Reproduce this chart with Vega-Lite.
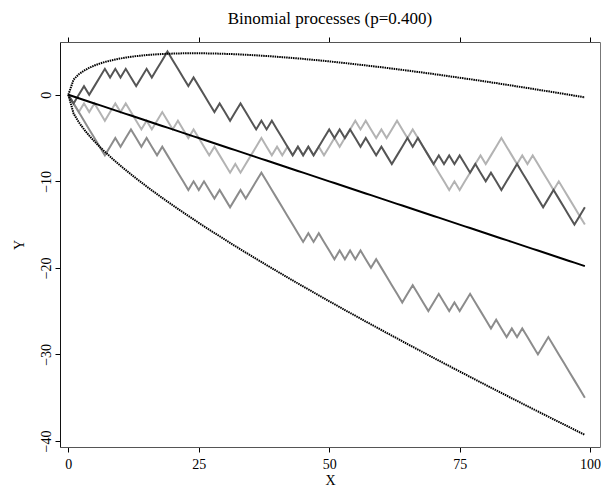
{
  "$schema": "https://vega.github.io/schema/vega-lite/v6.json",
  "width": 540,
  "height": 405,
  "autosize": {"type": "none"},
  "padding": {"left": 60, "top": 42, "right": 1, "bottom": 44},
  "background": "white",
  "config": {
    "font": "Liberation Serif",
    "view": {"stroke": null},
    "axis": {"labelFont": "Liberation Serif", "titleFont": "Liberation Serif", "labelFontSize": 14, "titleFontSize": 14, "titleFontWeight": "normal", "labelColor": "black", "titleColor": "black", "tickColor": "black", "tickSize": 5, "grid": false}
  },
  "title": {"text": "Binomial processes (p=0.400)", "font": "Liberation Serif", "fontSize": 17, "fontWeight": "normal", "color": "black", "anchor": "middle", "offset": 9},
  "data": {"values": [
    {"x":0,"a":0,"b":0,"c":0,"m":0,"h":0,"l":0},
    {"x":1,"a":-1,"b":-1,"c":-1,"m":-0.2,"h":1.76,"l":-2.16},
    {"x":2,"a":0,"b":-2,"c":-2,"m":-0.4,"h":2.37,"l":-3.17},
    {"x":3,"a":1,"b":-1,"c":-3,"m":-0.6,"h":2.79,"l":-3.99},
    {"x":4,"a":0,"b":-2,"c":-4,"m":-0.8,"h":3.12,"l":-4.72},
    {"x":5,"a":1,"b":-1,"c":-5,"m":-1.0,"h":3.38,"l":-5.38},
    {"x":6,"a":2,"b":-2,"c":-6,"m":-1.2,"h":3.60,"l":-6.00},
    {"x":7,"a":3,"b":-3,"c":-7,"m":-1.4,"h":3.79,"l":-6.59},
    {"x":8,"a":2,"b":-2,"c":-6,"m":-1.6,"h":3.94,"l":-7.14},
    {"x":9,"a":3,"b":-1,"c":-5,"m":-1.8,"h":4.08,"l":-7.68},
    {"x":10,"a":2,"b":-2,"c":-6,"m":-2.0,"h":4.20,"l":-8.20},
    {"x":11,"a":3,"b":-1,"c":-5,"m":-2.2,"h":4.30,"l":-8.70},
    {"x":12,"a":2,"b":-2,"c":-4,"m":-2.4,"h":4.39,"l":-9.19},
    {"x":13,"a":1,"b":-3,"c":-5,"m":-2.6,"h":4.47,"l":-9.67},
    {"x":14,"a":2,"b":-4,"c":-6,"m":-2.8,"h":4.53,"l":-10.13},
    {"x":15,"a":3,"b":-3,"c":-5,"m":-3.0,"h":4.59,"l":-10.59},
    {"x":16,"a":2,"b":-4,"c":-6,"m":-3.2,"h":4.64,"l":-11.04},
    {"x":17,"a":3,"b":-3,"c":-7,"m":-3.4,"h":4.68,"l":-11.48},
    {"x":18,"a":4,"b":-2,"c":-6,"m":-3.6,"h":4.71,"l":-11.91},
    {"x":19,"a":5,"b":-3,"c":-7,"m":-3.8,"h":4.74,"l":-12.34},
    {"x":20,"a":4,"b":-4,"c":-8,"m":-4.0,"h":4.76,"l":-12.76},
    {"x":21,"a":3,"b":-3,"c":-9,"m":-4.2,"h":4.78,"l":-13.18},
    {"x":22,"a":2,"b":-4,"c":-10,"m":-4.4,"h":4.79,"l":-13.59},
    {"x":23,"a":1,"b":-5,"c":-11,"m":-4.6,"h":4.80,"l":-14.00},
    {"x":24,"a":2,"b":-4,"c":-10,"m":-4.8,"h":4.80,"l":-14.40},
    {"x":25,"a":1,"b":-5,"c":-11,"m":-5.0,"h":4.80,"l":-14.80},
    {"x":26,"a":0,"b":-6,"c":-10,"m":-5.2,"h":4.79,"l":-15.19},
    {"x":27,"a":-1,"b":-7,"c":-11,"m":-5.4,"h":4.78,"l":-15.58},
    {"x":28,"a":-2,"b":-6,"c":-12,"m":-5.6,"h":4.77,"l":-15.97},
    {"x":29,"a":-1,"b":-7,"c":-11,"m":-5.8,"h":4.75,"l":-16.35},
    {"x":30,"a":-2,"b":-8,"c":-12,"m":-6.0,"h":4.73,"l":-16.73},
    {"x":31,"a":-3,"b":-9,"c":-13,"m":-6.2,"h":4.71,"l":-17.11},
    {"x":32,"a":-2,"b":-8,"c":-12,"m":-6.4,"h":4.69,"l":-17.49},
    {"x":33,"a":-1,"b":-9,"c":-11,"m":-6.6,"h":4.66,"l":-17.86},
    {"x":34,"a":-2,"b":-8,"c":-12,"m":-6.8,"h":4.63,"l":-18.23},
    {"x":35,"a":-3,"b":-7,"c":-11,"m":-7.0,"h":4.59,"l":-18.59},
    {"x":36,"a":-4,"b":-6,"c":-10,"m":-7.2,"h":4.56,"l":-18.96},
    {"x":37,"a":-3,"b":-5,"c":-9,"m":-7.4,"h":4.52,"l":-19.32},
    {"x":38,"a":-4,"b":-6,"c":-10,"m":-7.6,"h":4.48,"l":-19.68},
    {"x":39,"a":-3,"b":-7,"c":-11,"m":-7.8,"h":4.44,"l":-20.04},
    {"x":40,"a":-4,"b":-6,"c":-12,"m":-8.0,"h":4.39,"l":-20.39},
    {"x":41,"a":-5,"b":-7,"c":-13,"m":-8.2,"h":4.35,"l":-20.75},
    {"x":42,"a":-6,"b":-6,"c":-14,"m":-8.4,"h":4.30,"l":-21.10},
    {"x":43,"a":-7,"b":-7,"c":-15,"m":-8.6,"h":4.25,"l":-21.45},
    {"x":44,"a":-6,"b":-6,"c":-16,"m":-8.8,"h":4.20,"l":-21.80},
    {"x":45,"a":-7,"b":-7,"c":-17,"m":-9.0,"h":4.15,"l":-22.15},
    {"x":46,"a":-6,"b":-6,"c":-16,"m":-9.2,"h":4.09,"l":-22.49},
    {"x":47,"a":-7,"b":-7,"c":-17,"m":-9.4,"h":4.03,"l":-22.83},
    {"x":48,"a":-6,"b":-6,"c":-16,"m":-9.6,"h":3.98,"l":-23.18},
    {"x":49,"a":-5,"b":-7,"c":-17,"m":-9.8,"h":3.92,"l":-23.52},
    {"x":50,"a":-4,"b":-6,"c":-18,"m":-10.0,"h":3.86,"l":-23.86},
    {"x":51,"a":-5,"b":-5,"c":-19,"m":-10.2,"h":3.79,"l":-24.19},
    {"x":52,"a":-4,"b":-6,"c":-18,"m":-10.4,"h":3.73,"l":-24.53},
    {"x":53,"a":-5,"b":-5,"c":-19,"m":-10.6,"h":3.67,"l":-24.87},
    {"x":54,"a":-4,"b":-4,"c":-18,"m":-10.8,"h":3.60,"l":-25.20},
    {"x":55,"a":-5,"b":-3,"c":-19,"m":-11.0,"h":3.53,"l":-25.53},
    {"x":56,"a":-6,"b":-4,"c":-18,"m":-11.2,"h":3.46,"l":-25.86},
    {"x":57,"a":-5,"b":-3,"c":-19,"m":-11.4,"h":3.40,"l":-26.20},
    {"x":58,"a":-6,"b":-4,"c":-20,"m":-11.6,"h":3.32,"l":-26.52},
    {"x":59,"a":-7,"b":-5,"c":-19,"m":-11.8,"h":3.25,"l":-26.85},
    {"x":60,"a":-6,"b":-4,"c":-20,"m":-12.0,"h":3.18,"l":-27.18},
    {"x":61,"a":-7,"b":-5,"c":-21,"m":-12.2,"h":3.11,"l":-27.51},
    {"x":62,"a":-8,"b":-4,"c":-22,"m":-12.4,"h":3.03,"l":-27.83},
    {"x":63,"a":-7,"b":-3,"c":-23,"m":-12.6,"h":2.95,"l":-28.15},
    {"x":64,"a":-6,"b":-4,"c":-24,"m":-12.8,"h":2.88,"l":-28.48},
    {"x":65,"a":-5,"b":-5,"c":-23,"m":-13.0,"h":2.80,"l":-28.80},
    {"x":66,"a":-6,"b":-4,"c":-22,"m":-13.2,"h":2.72,"l":-29.12},
    {"x":67,"a":-5,"b":-5,"c":-23,"m":-13.4,"h":2.64,"l":-29.44},
    {"x":68,"a":-6,"b":-6,"c":-24,"m":-13.6,"h":2.56,"l":-29.76},
    {"x":69,"a":-7,"b":-7,"c":-25,"m":-13.8,"h":2.48,"l":-30.08},
    {"x":70,"a":-8,"b":-8,"c":-24,"m":-14.0,"h":2.40,"l":-30.40},
    {"x":71,"a":-7,"b":-9,"c":-23,"m":-14.2,"h":2.31,"l":-30.71},
    {"x":72,"a":-8,"b":-10,"c":-24,"m":-14.4,"h":2.23,"l":-31.03},
    {"x":73,"a":-7,"b":-11,"c":-25,"m":-14.6,"h":2.14,"l":-31.34},
    {"x":74,"a":-8,"b":-10,"c":-24,"m":-14.8,"h":2.06,"l":-31.66},
    {"x":75,"a":-7,"b":-11,"c":-25,"m":-15.0,"h":1.97,"l":-31.97},
    {"x":76,"a":-8,"b":-10,"c":-24,"m":-15.2,"h":1.88,"l":-32.28},
    {"x":77,"a":-9,"b":-9,"c":-23,"m":-15.4,"h":1.80,"l":-32.60},
    {"x":78,"a":-8,"b":-8,"c":-24,"m":-15.6,"h":1.71,"l":-32.91},
    {"x":79,"a":-9,"b":-7,"c":-25,"m":-15.8,"h":1.62,"l":-33.22},
    {"x":80,"a":-10,"b":-8,"c":-26,"m":-16.0,"h":1.53,"l":-33.53},
    {"x":81,"a":-9,"b":-7,"c":-27,"m":-16.2,"h":1.44,"l":-33.84},
    {"x":82,"a":-10,"b":-6,"c":-26,"m":-16.4,"h":1.35,"l":-34.15},
    {"x":83,"a":-11,"b":-5,"c":-27,"m":-16.6,"h":1.25,"l":-34.45},
    {"x":84,"a":-10,"b":-6,"c":-28,"m":-16.8,"h":1.16,"l":-34.76},
    {"x":85,"a":-9,"b":-7,"c":-27,"m":-17.0,"h":1.07,"l":-35.07},
    {"x":86,"a":-8,"b":-8,"c":-28,"m":-17.2,"h":0.97,"l":-35.37},
    {"x":87,"a":-9,"b":-7,"c":-27,"m":-17.4,"h":0.88,"l":-35.68},
    {"x":88,"a":-10,"b":-8,"c":-28,"m":-17.6,"h":0.78,"l":-35.98},
    {"x":89,"a":-11,"b":-7,"c":-29,"m":-17.8,"h":0.69,"l":-36.29},
    {"x":90,"a":-12,"b":-8,"c":-30,"m":-18.0,"h":0.59,"l":-36.59},
    {"x":91,"a":-13,"b":-9,"c":-29,"m":-18.2,"h":0.49,"l":-36.89},
    {"x":92,"a":-12,"b":-10,"c":-28,"m":-18.4,"h":0.40,"l":-37.20},
    {"x":93,"a":-11,"b":-11,"c":-29,"m":-18.6,"h":0.30,"l":-37.50},
    {"x":94,"a":-12,"b":-10,"c":-30,"m":-18.8,"h":0.20,"l":-37.80},
    {"x":95,"a":-13,"b":-11,"c":-31,"m":-19.0,"h":0.10,"l":-38.10},
    {"x":96,"a":-14,"b":-12,"c":-32,"m":-19.2,"h":0.00,"l":-38.40},
    {"x":97,"a":-15,"b":-13,"c":-33,"m":-19.4,"h":-0.10,"l":-38.70},
    {"x":98,"a":-14,"b":-14,"c":-34,"m":-19.6,"h":-0.20,"l":-39.00},
    {"x":99,"a":-13,"b":-15,"c":-35,"m":-19.8,"h":-0.30,"l":-39.30}
  ]},
  "resolve": {"axis": {"x": "independent", "y": "independent"}},
  "layer": [
    {
      "mark": {"type": "line", "color": "#b3b3b3", "strokeWidth": 2},
      "encoding": {
        "x": {"field": "x", "type": "quantitative", "scale": {"domain": [-1.6, 101.9], "nice": false, "zero": false},
              "axis": {"orient": "bottom", "values": [0, 25, 50, 75, 100], "title": "X", "domainColor": "#555", "labelPadding": 5, "titlePadding": 2}},
        "y": {"field": "b", "type": "quantitative", "scale": {"domain": [-40.7, 6.1], "nice": false, "zero": false},
              "axis": {"orient": "left", "values": [0, -10, -20, -30, -40], "title": "Y", "domainColor": "#111", "labelAngle": -90, "labelAlign": "center", "labelBaseline": "bottom", "labelPadding": 2, "titlePadding": 13}}
      }
    },
    {
      "mark": {"type": "line", "color": "#8c8c8c", "strokeWidth": 2},
      "encoding": {
        "x": {"field": "x", "type": "quantitative", "axis": {"orient": "top", "values": [0, 25, 50, 75, 100], "labels": false, "title": null, "domainColor": "#555"}},
        "y": {"field": "c", "type": "quantitative", "axis": {"orient": "right", "values": [0, -10, -20, -30, -40], "labels": false, "title": null, "domainColor": "#777"}}
      }
    },
    {
      "mark": {"type": "line", "color": "#555555", "strokeWidth": 2},
      "encoding": {
        "x": {"field": "x", "type": "quantitative", "axis": null},
        "y": {"field": "a", "type": "quantitative", "axis": null}
      }
    },
    {
      "mark": {"type": "line", "color": "black", "strokeWidth": 2},
      "encoding": {
        "x": {"field": "x", "type": "quantitative", "axis": null},
        "y": {"field": "m", "type": "quantitative", "axis": null}
      }
    },
    {
      "mark": {"type": "line", "color": "black", "strokeWidth": 2, "strokeDash": [1.5, 0.8]},
      "encoding": {
        "x": {"field": "x", "type": "quantitative", "axis": null},
        "y": {"field": "h", "type": "quantitative", "axis": null}
      }
    },
    {
      "mark": {"type": "line", "color": "black", "strokeWidth": 2, "strokeDash": [1.5, 0.8]},
      "encoding": {
        "x": {"field": "x", "type": "quantitative", "axis": null},
        "y": {"field": "l", "type": "quantitative", "axis": null}
      }
    }
  ]
}
